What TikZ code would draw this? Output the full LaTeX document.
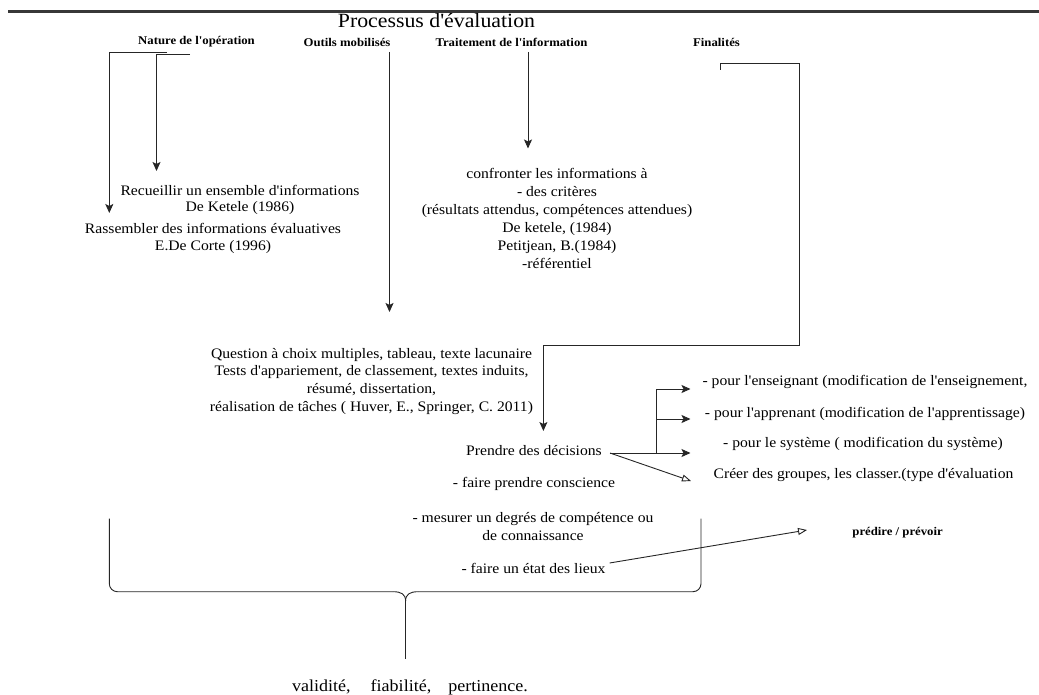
\documentclass[tikz,border=0pt]{standalone}
\usepackage{fontspec}
\setmainfont{Liberation Serif}[FakeStretch=1.08,Ligatures=TeXOff]
\usetikzlibrary{arrows.meta}
\begin{document}
\begin{tikzpicture}[x=1pt,y=-1pt,
  txt/.style={inner sep=0pt, align=center, font=\fontsize{14.5}{17.6}\selectfont},
  head/.style={inner sep=0pt, font=\bfseries\fontsize{11.8}{14}\selectfont},
  conn/.style={line width=0.9pt, draw=black!85},
  arr/.style={conn, -{Stealth[length=9pt,width=8pt,inset=2pt]}},
  oarr/.style={conn, -{Triangle[open,length=9pt,width=7pt]}}]
\useasboundingbox (0,0) rectangle (1039,695);
% header rule and title
\draw[line width=3.5pt, draw=black!78] (8,11.5) -- (1039,11.5);
\node[txt, font=\fontsize{20.2}{24}\selectfont] (title) at (436.5,20.5) {Processus d'évaluation};
% column headings
\node[head] (nat) at (196.5,42) {Nature de l'opération};
\node[head] (out) at (347,42) {Outils mobilisés};
\node[head] (trt) at (511.5,42) {Traitement de l'information};
\node[head] (fin) at (716.5,42) {Finalités};
% texts
\node[txt, font=\fontsize{14.5}{16.6}\selectfont] (rec) at (240,199.8) {Recueillir un ensemble d'informations\\De Ketele (1986)};
\node[txt, font=\fontsize{14.5}{17}\selectfont] (ras) at (213,238.5) {Rassembler des informations évaluatives\\E.De Corte (1996)};
\node[txt, font=\fontsize{14.5}{18}\selectfont] (conf) at (557,218.8) {confronter les informations à\\- des critères\\(résultats attendus, compétences attendues)\\De ketele, (1984)\\Petitjean, B.(1984)\\-référentiel};
\node[txt, font=\fontsize{14.5}{17.7}\selectfont] (ques) at (371.5,381.2) {Question à choix multiples, tableau, texte lacunaire\\Tests d'appariement, de classement, textes induits,\\résumé, dissertation,\\réalisation de tâches ( Huver, E., Springer, C. 2011)};
\node[txt] (pren) at (534,450.8) {Prendre des décisions};
\node[txt] (cons) at (534,484) {- faire prendre conscience};
\node[txt, font=\fontsize{14.5}{17.3}\selectfont] (mes) at (533,526.4) {- mesurer un degrés de compétence ou\\de connaissance};
\node[txt] (etat) at (533.5,568.7) {- faire un état des lieux};
\node[txt] (ens) at (865,382) {- pour l'enseignant (modification de l'enseignement,};
\node[txt] (app) at (865,413.6) {- pour l'apprenant (modification de l'apprentissage)};
\node[txt] (sys) at (863,444) {- pour le système ( modification du système)};
\node[txt] (grp) at (863.5,474.7) {Créer des groupes, les classer.(type d'évaluation};
\node[head] (pred) at (897.6,533) {prédire / prévoir};
\node[txt, font=\fontsize{16.7}{20}\selectfont] (val) at (410,687) {validité,\hspace{20pt}fiabilité,\hspace{17pt}pertinence.};
% named coordinates for connector ends
\coordinate (o1) at (167,52.3);
\coordinate (o1t) at (109.3,213);
\coordinate (i1) at (190,54.5);
\coordinate (i1t) at (156.5,171);
\coordinate (ot) at (389.5,52);
\coordinate (otT) at (389.5,312);
\coordinate (tt) at (528,52);
\coordinate (ttT) at (528,148.5);
\coordinate (f0) at (720,70);
\coordinate (f1) at (720,63);
\coordinate (f2) at (799,63);
\coordinate (f3) at (799,345);
\coordinate (fT) at (543.4,431);
\coordinate (pd) at (610,453);
\coordinate (br) at (656.5,453);
\coordinate (a1) at (690.5,389);
\coordinate (a2) at (690.5,419);
\coordinate (a3) at (690.5,453);
\coordinate (a4) at (691,481);
\coordinate (e0) at (609.7,563);
\coordinate (eT) at (807,530);
% connectors
\draw[arr] (o1) -| (o1t);
\draw[arr] (i1) -| (i1t);
\draw[arr] (ot) -- (otT);
\draw[arr] (tt) -- (ttT);
\draw[arr] (f0) -- (f1) -- (f2) -- (f3) -| (fT);
\draw[arr] (pd) -- (a3);
\draw[arr] (br) |- (a1);
\draw[arr] (br |- a2) -- (a2);
\draw[oarr] (pd) -- (a4);
\draw[oarr] (e0) -- (eT);
% big brace
\coordinate (bl) at (109.3,518.6);
\coordinate (bL) at (393,591.7);
\coordinate (brr) at (701,518.6);
\coordinate (bR) at (418.2,591.7);
\coordinate (tip) at (405.6,601);
\coordinate (stem) at (405.6,659);
\draw[conn, rounded corners=8pt] (bl) |- (bL);
\draw[conn] (bL) .. controls (401,591.7) and (405.6,594) .. (tip);
\draw[conn, rounded corners=8pt] (brr) |- (bR);
\draw[conn] (bR) .. controls (410.2,591.7) and (405.6,594) .. (tip);
\draw[conn] (tip) -- (stem);
\end{tikzpicture}
\end{document}
